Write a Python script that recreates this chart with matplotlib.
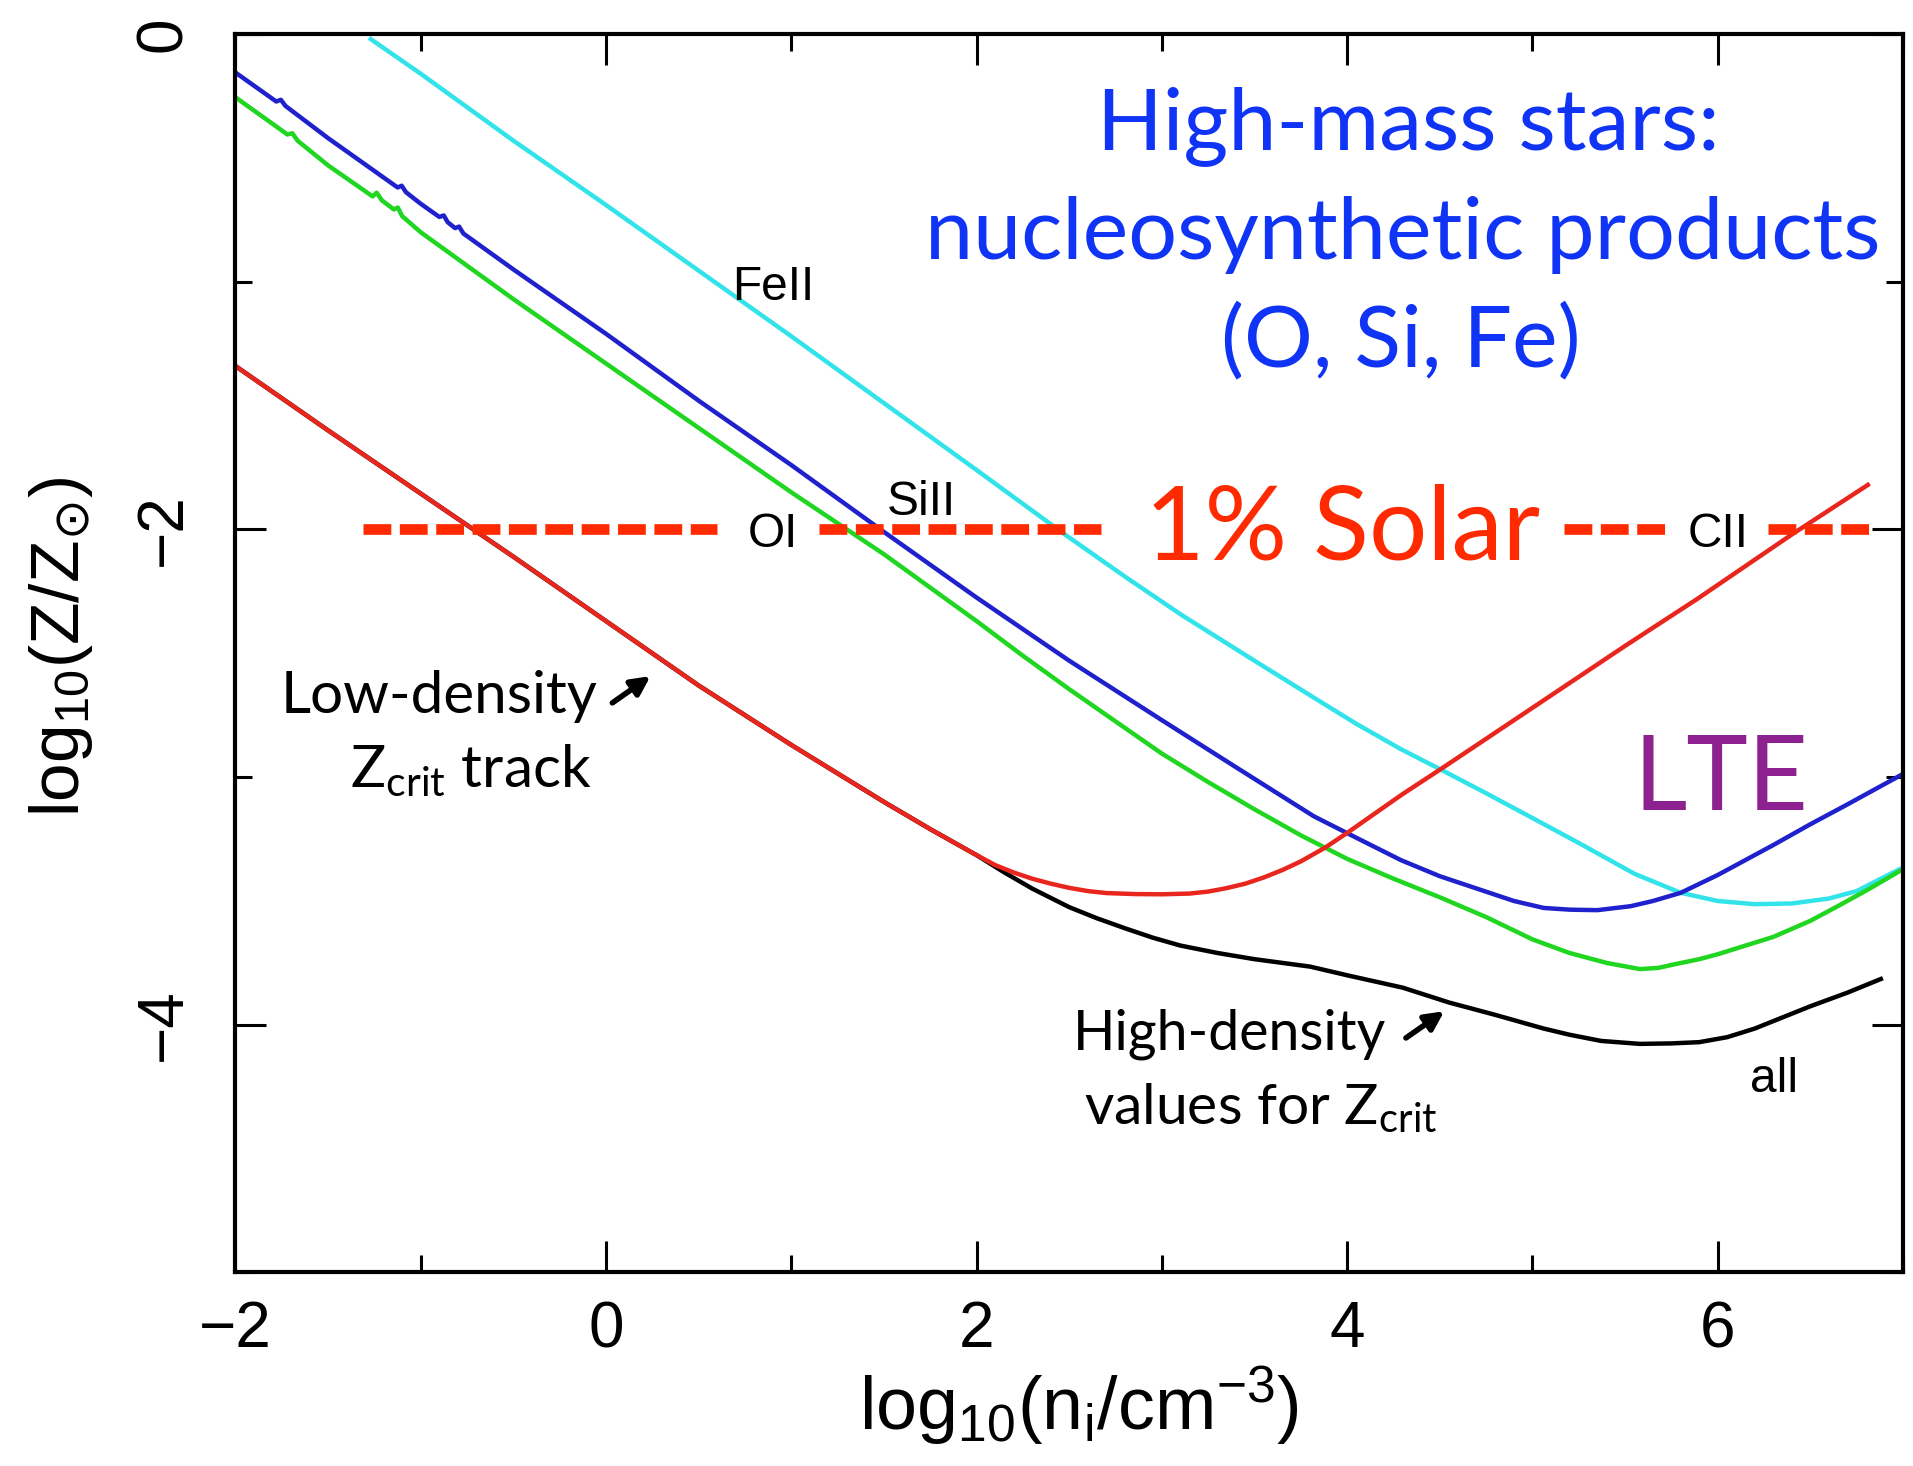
import matplotlib.pyplot as plt
from matplotlib.ticker import MultipleLocator

plt.rcParams['font.family'] = ['Liberation Sans', 'DejaVu Sans']
plt.rcParams['mathtext.default'] = 'regular'

# log10(n_i / cm^-3) on x, log10(Z / Zsun) critical metallicity on y
x_all = [-2.0, -1.5, -1.0, -0.5, 0.0, 0.5, 1.0, 1.5, 1.75, 2.0, 2.15, 2.3, 2.5,
         2.65, 2.8, 2.95, 3.1, 3.3, 3.5, 3.65, 3.8, 4.0, 4.15, 4.3, 4.55, 4.8,
         5.06, 5.2, 5.37, 5.58, 5.75, 5.9, 6.05, 6.2, 6.35, 6.5, 6.7, 6.88]
y_all = [-1.34, -1.60, -1.855, -2.11, -2.37, -2.63, -2.87, -3.10, -3.21, -3.315,
         -3.385, -3.45, -3.525, -3.57, -3.61, -3.648, -3.68, -3.71, -3.735,
         -3.75, -3.765, -3.80, -3.825, -3.85, -3.91, -3.96, -4.015, -4.04,
         -4.065, -4.077, -4.075, -4.07, -4.05, -4.015, -3.97, -3.925, -3.87,
         -3.815]

x_cii = [-2.0, -1.5, -1.0, -0.5, 0.0, 0.5, 1.0, 1.5, 1.75, 2.0, 2.1, 2.2, 2.3,
         2.4, 2.5, 2.6, 2.7, 2.85, 3.0, 3.15, 3.25, 3.35, 3.45, 3.55, 3.65,
         3.75, 3.88, 4.0, 4.29, 4.52, 5.0, 5.5, 5.89, 6.4, 6.81]
y_cii = [-1.34, -1.60, -1.855, -2.11, -2.37, -2.63, -2.87, -3.10, -3.21, -3.315,
         -3.355, -3.385, -3.41, -3.43, -3.447, -3.46, -3.468, -3.472, -3.473,
         -3.47, -3.462, -3.448, -3.43, -3.405, -3.375, -3.34, -3.285, -3.225,
         -3.073, -2.96, -2.72, -2.47, -2.28, -2.02, -1.82]

x_oi = [-2.0, -1.72, -1.693, -1.665, -1.5, -1.26, -1.238, -1.21, -1.145,
        -1.124, -1.10, -1.0, -0.5, 0.0, 0.5, 1.0, 1.5, 2.0, 2.25, 2.5, 2.75,
        3.0, 3.25, 3.5, 3.75, 4.0, 4.25, 4.5, 4.75, 5.0, 5.2, 5.4, 5.58, 5.68,
        5.77, 5.9, 6.0, 6.15, 6.3, 6.5, 6.65, 6.82, 6.98]
y_oi = [-0.255, -0.405, -0.40, -0.43, -0.53, -0.655, -0.64, -0.671, -0.708,
        -0.70, -0.735, -0.80, -1.07, -1.33, -1.59, -1.85, -2.10, -2.37, -2.51,
        -2.645, -2.775, -2.905, -3.02, -3.13, -3.235, -3.33, -3.41, -3.485,
        -3.565, -3.655, -3.71, -3.75, -3.775, -3.77, -3.755, -3.735, -3.715,
        -3.68, -3.645, -3.58, -3.52, -3.45, -3.38]

x_siii = [-2.0, -1.78, -1.755, -1.73, -1.5, -1.125, -1.103, -1.08, -1.0,
          -0.9, -0.876, -0.855, -0.815, -0.793, -0.77, -0.5, 0.0, 0.5, 1.0,
          1.5, 2.0, 2.5, 3.0, 3.4, 3.82, 4.05, 4.29, 4.5, 4.7, 4.9, 5.06, 5.2,
          5.35, 5.53, 5.65, 5.8, 6.0, 6.3, 6.5, 6.7, 7.0]
y_siii = [-0.155, -0.272, -0.265, -0.29, -0.42, -0.619, -0.612, -0.638,
          -0.685, -0.738, -0.732, -0.759, -0.783, -0.777, -0.805, -0.95, -1.21,
          -1.48, -1.74, -2.01, -2.275, -2.53, -2.77, -2.96, -3.158, -3.245,
          -3.335, -3.40, -3.45, -3.50, -3.528, -3.535, -3.537, -3.521, -3.50,
          -3.467, -3.395, -3.274, -3.19, -3.11, -2.987]

x_feii = [-1.27, -1.0, -0.5, 0.0, 0.5, 1.0, 1.5, 2.0, 2.476, 2.8, 3.11, 3.5,
          3.82, 4.05, 4.29, 4.52, 4.75, 5.0, 5.27, 5.55, 5.8, 6.0, 6.2, 6.4,
          6.6, 6.75, 6.88, 7.0]
y_feii = [-0.02, -0.16, -0.43, -0.69, -0.955, -1.22, -1.49, -1.76, -2.02, -2.19,
          -2.347, -2.53, -2.679, -2.785, -2.887, -2.975, -3.065, -3.165, -3.274,
          -3.39, -3.467, -3.50, -3.513, -3.51, -3.49, -3.46, -3.41, -3.365]

# 1% solar level, broken where the labels sit on it
solar_level = -2.0
solar_pieces = [(-1.31, 0.60), (1.15, 2.67), (5.17, 5.72), (6.27, 6.82)]

curves = [
    (x_feii, y_feii, '#33e3ea'),
    (x_siii, y_siii, '#1f22cc'),
    (x_oi, y_oi, '#20d620'),
    (x_all, y_all, 'black'),
    (x_cii, y_cii, '#e8261e'),
]

fig = plt.figure(figsize=(19.13, 14.66), dpi=100)
ax = fig.add_axes([0.1231, 0.1320, 0.8717, 0.8447])

for xs, ys, c in curves:
    ax.plot(xs, ys, color=c, lw=3.2, solid_joinstyle='round')

for x0, x1 in solar_pieces:
    ax.plot([x0, x1], [solar_level, solar_level], color='#ff2a00', lw=7.7,
            dashes=(2.6, 0.8))

ax.set_xlim(-2, 7)
ax.set_ylim(-5, 0)
ax.xaxis.set_major_locator(MultipleLocator(2))
ax.xaxis.set_minor_locator(MultipleLocator(1))
ax.yaxis.set_major_locator(MultipleLocator(2))
ax.yaxis.set_minor_locator(MultipleLocator(1))
ax.tick_params(which='both', direction='in', top=True, right=True, width=2.2)
ax.tick_params(which='major', length=22)
ax.tick_params(which='minor', length=12)
ax.tick_params(axis='x', labelsize=46, pad=20)
ax.tick_params(axis='y', labelsize=46, pad=30, labelrotation=90)
plt.setp(ax.get_yticklabels(), va='center')
for sp in ax.spines.values():
    sp.set_linewidth(3)

ax.set_xlabel('log$_{10}$(n$_{i}$/cm$^{-3}$)', fontsize=53)
ax.set_ylabel(r'log$_{10}$(Z/Z$_{\mathrm{\odot}}$)', fontsize=50)
ax.xaxis.set_label_coords(0.506, -0.074)
ax.yaxis.set_label_coords(-0.084, 0.505)

# species labels along the curves
ax.text(0.902, -1.072, 'FeII', fontsize=34.5, ha='center', va='baseline')
ax.text(1.70, -1.942, 'SiII', fontsize=34.5, ha='center', va='baseline')
ax.text(0.902, -2.069, 'OI', fontsize=34.5, ha='center', va='baseline')
ax.text(6.0, -2.069, 'CII', fontsize=34.5, ha='center', va='baseline')
ax.text(6.305, -4.27, 'all', fontsize=34.5, ha='center', va='baseline')

gill = ['Lato', 'DejaVu Sans']
blue_txt = '#1034f5'
ax.text(4.33, -0.465, 'High-mass stars:', fontsize=62, color=blue_txt,
        ha='center', va='baseline', family=gill)
ax.text(4.30, -0.907, 'nucleosynthetic products', fontsize=62, color=blue_txt,
        ha='center', va='baseline', family=gill)
ax.text(4.29, -1.343, '(O, Si, Fe)', fontsize=62, color=blue_txt,
        ha='center', va='baseline', family=gill)
ax.text(3.976, -2.123, '1% Solar', fontsize=74, color='#ff2a00',
        ha='center', va='baseline', family=gill)
ax.text(6.016, -3.134, 'LTE', fontsize=75, color='#8e2190',
        ha='center', va='baseline', family=gill)

ax.text(-0.899, -2.739, 'Low-density', fontsize=42, ha='center',
        va='baseline', family=gill)
ax.text(-0.73, -3.04, 'Z$_{crit}$ track', fontsize=42, ha='center',
        va='baseline', family=gill)
ax.text(3.366, -4.10, 'High-density', fontsize=40, ha='center',
        va='baseline', family=gill)
ax.text(3.535, -4.40, 'values for Z$_{crit}$', fontsize=41, ha='center',
        va='baseline', family=gill)

arrow = dict(arrowstyle='-|>', lw=4, color='black', mutation_scale=28,
             shrinkA=0, shrinkB=0)
ax.annotate('', xy=(0.24, -2.592), xytext=(0.034, -2.70), arrowprops=arrow)
ax.annotate('', xy=(4.524, -3.945), xytext=(4.317, -4.053), arrowprops=arrow)

fig.savefig('out.png', dpi=100)
